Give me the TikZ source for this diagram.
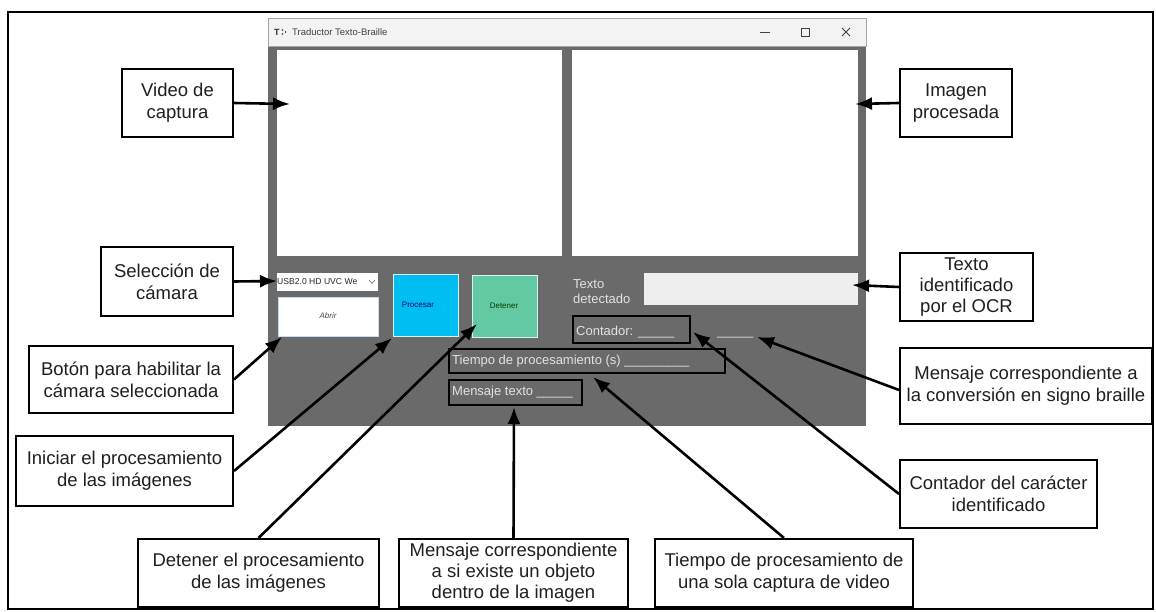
\documentclass[tikz,border=0pt]{standalone}
\usepackage{fontspec}
\setmainfont{Liberation Sans}
\usetikzlibrary{arrows.meta}
\definecolor{wingray}{HTML}{6A6A6A}
\definecolor{titlegray}{HTML}{F3F3F3}
\definecolor{labelgray}{HTML}{E2E2E2}
\definecolor{fieldgray}{HTML}{EEEEEE}
\definecolor{cyanbtn}{HTML}{00BDF2}
\definecolor{greenbtn}{HTML}{62C9A3}
\definecolor{abrirborder}{HTML}{C4DDF0}
\definecolor{btnborder}{HTML}{D8F0F8}
\begin{document}
\begin{tikzpicture}[x=1pt,y=-1pt,
  callout/.style={draw=black, line width=2pt, fill=white, align=center, inner sep=0pt,
    text=black!88, font=\fontsize{18.5}{22}\selectfont},
  arr/.style={line width=2.6pt, draw=black, -{Latex[length=17pt,width=13pt]}},
  ui/.style={inner sep=0pt, outer sep=0pt, anchor=north west},
  wlabel/.style={text=labelgray, font=\fontsize{13}{15}\selectfont, inner sep=0pt, anchor=base west},
  outl/.style={draw=black, line width=2pt},
  btntext/.style={font=\fontsize{8}{9}\selectfont, inner sep=0pt},
  ctrl/.style={draw=black!75, line width=0.8pt}
]
\useasboundingbox (0,0) rectangle (1156,612);
% outer frame
\draw[line width=1.6pt] (8,12) rectangle (1153,609);

% ---------- application window ----------
\node[ui, fill=wingray, minimum width=598pt, minimum height=380pt] (body) at (268,46) {};
\node[ui, fill=titlegray, draw=black!35, line width=0.6pt, minimum width=598pt, minimum height=28pt] (title) at (268,18) {};
\node[anchor=west, inner sep=0pt, font=\fontsize{9}{10}\selectfont\bfseries, text=black!80] (ico) at (274,32) {T};
\fill[black!80] (282.5,30) circle (0.9pt) (282.5,34) circle (0.9pt) (285.5,32) circle (0.9pt);
\node[anchor=west, inner sep=0pt, font=\fontsize{9.5}{11}\selectfont, text=black!75] (ttl) at (292,32) {Traductor Texto-Braille};
\draw[ctrl] (760,32) -- (770,32);
\draw[ctrl] (801,28) rectangle (809,36);
\draw[ctrl] (842,28) -- (850,36) (842,36) -- (850,28);

\node[ui, fill=white, minimum width=285pt, minimum height=206pt] (pLeft) at (277,50) {};
\node[ui, fill=white, minimum width=286pt, minimum height=206pt] (pRight) at (572,50) {};

% combobox
\node[ui, fill=white, minimum width=101pt, minimum height=18pt] (combo) at (277,273) {};
\node[anchor=west, inner sep=0pt, font=\fontsize{8.6}{10}\selectfont, text=black!85] (comboTxt) at (277,282) {USB2.0 HD UVC We};
\draw[black!60, line width=0.6pt] (369,280) -- (372,283.5) -- (375,280);

% buttons
\node[ui, fill=white, draw=abrirborder, line width=1pt, minimum width=100pt, minimum height=39pt] (abrir) at (278,297) {};
\node[btntext, text=black!70, font=\fontsize{8}{9}\selectfont\itshape] (abrirTxt) at (328,316) {Abrir};
\node[ui, fill=cyanbtn, draw=btnborder, line width=1pt, minimum width=65pt, minimum height=61pt] (procesar) at (393,275) {};
\node[btntext, text=blue!45!black] (procTxt) at (418,305) {Procesar};
\node[ui, fill=greenbtn, draw=btnborder, line width=1pt, minimum width=65pt, minimum height=61pt] (detener) at (472,276) {};
\node[btntext, text=green!25!black] (detTxt) at (504,306) {Detener};

% texto detectado
\node[wlabel, align=left] (lblTexto) at (573,288) {Texto};
\node[wlabel] (lblTexto2) at (573,303) {detectado};
\node[ui, fill=fieldgray, minimum width=214pt, minimum height=32pt] (field) at (644,273) {};

% contador
\node[ui, outl, minimum width=117pt, minimum height=27pt] (contBox) at (573,316) {};
\node[wlabel] (contTxt) at (576,335) {Contador: \_\_\_\_\_};
\node[wlabel] (brTxt) at (717,335) {\_\_\_\_\_};

% tiempo
\node[ui, outl, minimum width=276pt, minimum height=24pt] (tiempoBox) at (449,349) {};
\node[wlabel] (tiempoTxt) at (452,364) {Tiempo de procesamiento (s) \_\_\_\_\_\_\_\_\_};

% mensaje texto
\node[ui, outl, minimum width=133pt, minimum height=25pt] (msgBox) at (449,380) {};
\node[wlabel] (msgTxt) at (452,395) {Mensaje texto \_\_\_\_\_};

% ---------- arrow targets ----------
\coordinate (tVideo) at (290,104);
\coordinate (tImagen) at (855,104);
\coordinate (tSel) at (277,281);
\coordinate (tTexto) at (852,285);
\coordinate (tBoton) at (282,337);
\coordinate (tIniciar) at (392,338);
\coordinate (tDetener) at (477,324);
\coordinate (tMensaje) at (514,407);
\coordinate (tTiempo) at (593,377);
\coordinate (tContador) at (693,332);
\coordinate (tBraille) at (757,337);

% ---------- callouts ----------
\node[callout, minimum width=111pt, minimum height=68pt] (cVideo) at (177.5,103) {Video de\\captura};
\node[callout, minimum width=112pt, minimum height=68pt] (cImagen) at (956,103) {Imagen\\procesada};
\node[callout, minimum width=132pt, minimum height=69pt] (cSel) at (167,281.5) {Selección de\\cámara};
\node[callout, minimum width=133pt, minimum height=68pt, font=\fontsize{18.5}{21}\selectfont] (cTexto) at (966.5,287) {Texto\\identificado\\por el OCR};
\node[callout, minimum width=204pt, minimum height=67pt] (cBoton) at (131,379.5) {Botón para habilitar la\\cámara seleccionada};
\node[callout, minimum width=252pt, minimum height=76pt] (cBraille) at (1026,386) {Mensaje correspondiente a\\la conversión en signo braille};
\node[callout, minimum width=217pt, minimum height=70pt] (cIniciar) at (124.5,471) {Iniciar el procesamiento\\de las imágenes};
\node[callout, minimum width=197pt, minimum height=68pt] (cContador) at (998.5,494) {Contador del carácter\\identificado};
\node[callout, minimum width=241pt, minimum height=68pt] (cDetener) at (258.5,573) {Detener el procesamiento\\de las imágenes};
\node[callout, minimum width=229pt, minimum height=68pt, font=\fontsize{18.5}{21}\selectfont] (cMensaje) at (513.5,573) {Mensaje correspondiente\\a si existe un objeto\\dentro de la imagen};
\node[callout, minimum width=258pt, minimum height=68pt] (cTiempo) at (784,573) {Tiempo de procesamiento de\\una sola captura de video};

% ---------- connectors ----------
\draw[arr] (cVideo.east) -- (tVideo);
\draw[arr] (cImagen.west) -- (tImagen);
\draw[arr] (cSel.east) -- (tSel);
\draw[arr] (cTexto.west) -- (tTexto);
\draw[arr] (cBoton.east) -- (tBoton);
\draw[arr] (cIniciar.east) -- (tIniciar);
\draw[arr] (cDetener.north) -- (tDetener);
\draw[arr] (cMensaje.north) -- (tMensaje);
\draw[arr] (cTiempo.north) -- (tTiempo);
\draw[arr] (cContador.west) -- (tContador);
\draw[arr] ([yshift=-4pt]cBraille.west) -- (tBraille);
\end{tikzpicture}
\end{document}
